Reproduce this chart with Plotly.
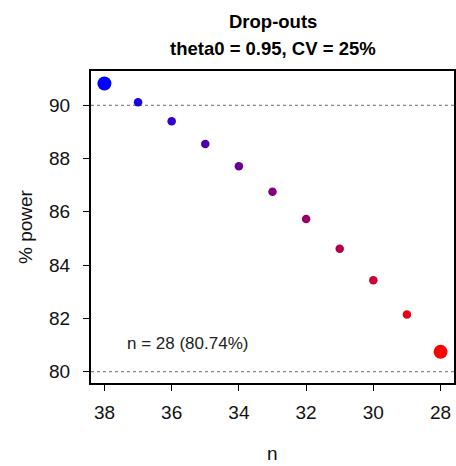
import plotly.graph_objects as go

# Sample size after drop-outs and the resulting power (%)
n_values = [38, 37, 36, 35, 34, 33, 32, 31, 30, 29, 28]
power_pct = [90.82, 90.12, 89.40, 88.55, 87.71, 86.75, 85.73, 84.61, 83.43, 82.14, 80.74]
x_ticks = [38, 36, 34, 32, 30, 28]
y_ticks = [80, 82, 84, 86, 88, 90]
ref_lines = [80, 90]
title_lines = ["Drop-outs", "theta0 = 0.95, CV = 25%"]
x_title = "n"
y_title = "% power"

W, H = 456, 466
M = dict(l=91, r=2, t=71, b=83)
plot_w = W - M["l"] - M["r"]
plot_h = H - M["t"] - M["b"]


def px_to_paper(px, py):
    """Convert pixel position on the page to paper coordinates."""
    return (px - M["l"]) / plot_w, (H - M["b"] - py) / plot_h


# blue -> red ramp along the drop-out sequence
k = len(n_values) - 1
colors = [f"rgb({round(255 * i / k)},0,{round(255 * (1 - i / k))})" for i in range(len(n_values))]
sizes = [14 if i in (0, k) else 8.5 for i in range(len(n_values))]

font = "Liberation Sans, Arial, Helvetica, sans-serif"

fig = go.Figure()
fig.add_trace(go.Scatter(
    x=n_values, y=power_pct, mode="markers",
    marker=dict(color=colors, size=sizes, opacity=1, line=dict(width=0)),
    showlegend=False, hoverinfo="x+y",
))

for v in ref_lines:
    fig.add_hline(y=v, line=dict(color="#888888", width=1.2, dash="dot"), layer="below")

fig.add_annotation(
    x=35.53, y=81.04, xref="x", yref="y",
    text=f"n = {n_values[-1]} ({power_pct[-1]:.2f}%)",
    showarrow=False, font=dict(family=font, size=17, color="#222222"),
)

# two-line bold title centred over the plot area
for text, py in zip(title_lines, [22, 48]):
    _, yp = px_to_paper(0, py)
    fig.add_annotation(
        x=0.5, y=yp, xref="paper", yref="paper",
        xanchor="center", yanchor="middle", showarrow=False,
        text=f"<b>{text}</b>", font=dict(family=font, size=18.5, color="black"),
    )

# axis titles
xp, yp = px_to_paper(0, 453)
fig.add_annotation(x=0.5, y=yp, xref="paper", yref="paper", showarrow=False,
                   xanchor="center", yanchor="middle", text=x_title,
                   font=dict(family=font, size=19, color="#111111"))
xp, yp = px_to_paper(25, 227)
fig.add_annotation(x=xp, y=yp, xref="paper", yref="paper", showarrow=False,
                   xanchor="center", yanchor="middle", text=y_title, textangle=-90,
                   font=dict(family=font, size=19, color="#111111"))

fig.update_layout(
    width=W, height=H, margin=M,
    paper_bgcolor="white", plot_bgcolor="white",
    font=dict(family=font, color="black"),
)

fig.update_xaxes(
    range=[38.4, 27.6], tickvals=x_ticks, automargin=False,
    showgrid=False, zeroline=False,
    showline=True, linecolor="black", linewidth=2, mirror=True,
    ticks="outside", ticklen=6, tickwidth=1.3, tickcolor="black",
    tickfont=dict(family=font, size=19, color="#111111"),
    ticklabelstandoff=5,
)
fig.update_yaxes(
    range=[79.57, 91.29], tickvals=y_ticks, automargin=False,
    showgrid=False, zeroline=False,
    showline=True, linecolor="black", linewidth=2, mirror=True,
    ticks="outside", ticklen=6, tickwidth=1.3, tickcolor="black",
    tickfont=dict(family=font, size=19, color="#111111"),
    ticklabelstandoff=9,
)

fig.write_html("out.html")
